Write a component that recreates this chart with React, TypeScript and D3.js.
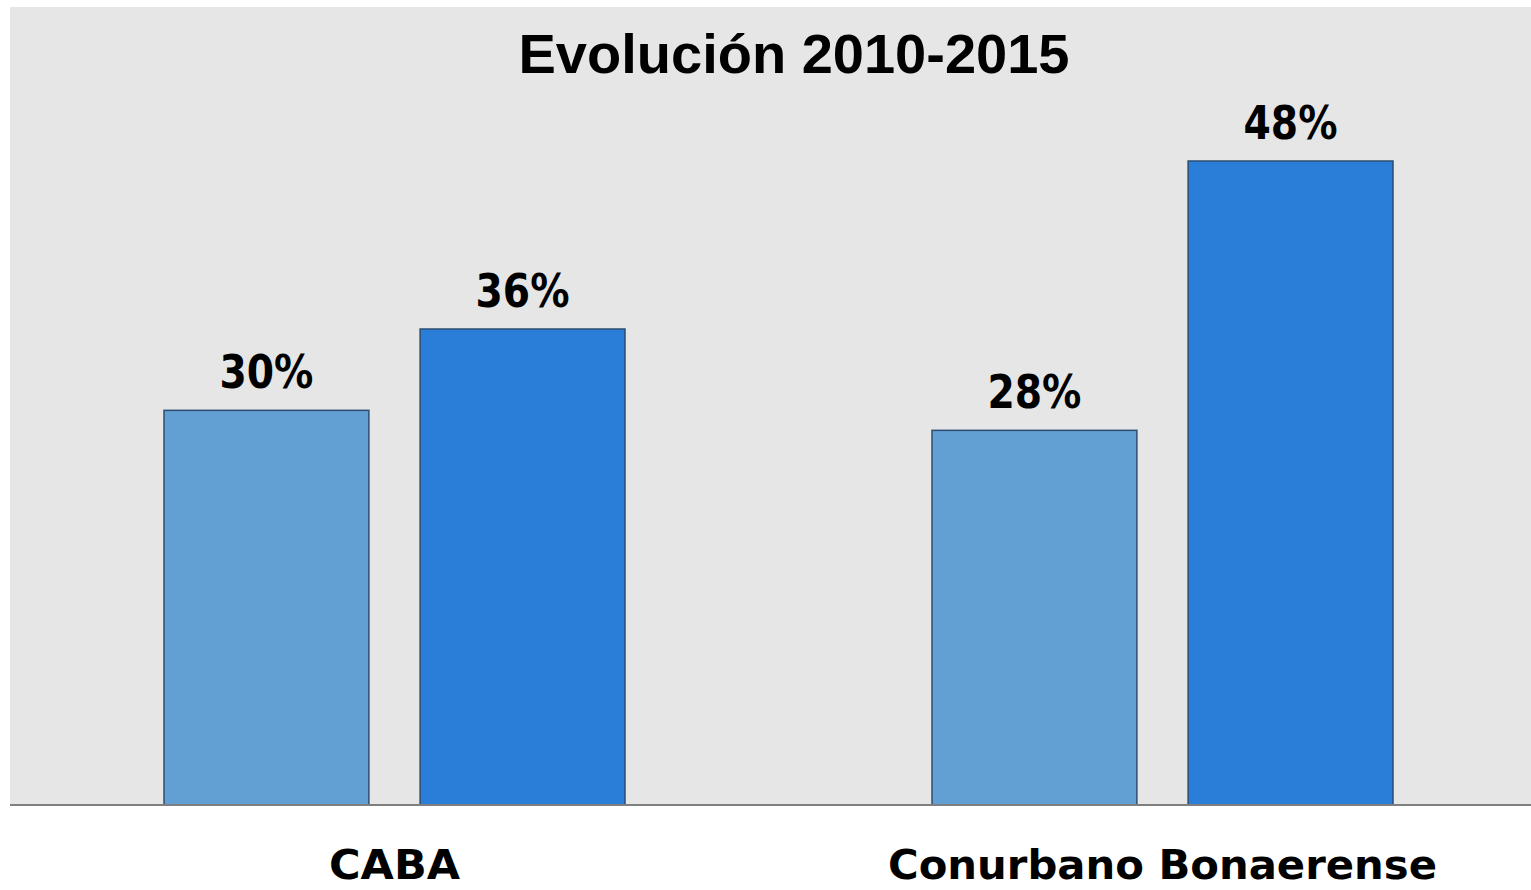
import React from 'react'
import * as d3 from 'd3'

const categories = ['CABA', 'Conurbano Bonaerense']
const series = ['2010', '2015']
const values2010 = [29.6, 28.1]
const values2015 = [35.7, 48.3]
const seriesColors = ['#629fd2', '#2b7ed8']
const title = 'Evolución 2010-2015'

const W = 1531
const H = 890
const bgLeft = 10
const bgTop = 7
const baseY = 805

const App = () => {
  const rows = categories.map((c, i) => ({ category: c, values: [values2010[i], values2015[i]] }))

  // outer band per category, inner band per series
  const x0 = d3.scaleBand().domain(categories).range([bgLeft, 1546]).padding(0)
  const x1 = d3.scaleBand().domain(series).range([154, 615]).paddingInner(0.2).paddingOuter(0)
  const y = d3.scaleLinear().domain([0, 60]).range([baseY, 5])
  const fmt = (v: number) => `${Math.round(v)}%`

  return (
    <div style={{ position: 'fixed', left: 0, top: 0, background: '#fff' }}>
      <svg width={W} height={H} style={{ display: 'block' }}>
        <rect x={bgLeft} y={bgTop} width={W - bgLeft} height={baseY - bgTop} fill="#e6e6e6" />
        <text
          x={794}
          y={73}
          textAnchor="middle"
          fontFamily="'Liberation Sans', Arial, sans-serif"
          fontWeight="bold"
          fontSize={56}
          fill="#000"
        >
          {title}
        </text>
        {rows.map((r) => (
          <g key={r.category} transform={`translate(${x0(r.category)},0)`}>
            {r.values.map((v, j) => (
              <g key={series[j]}>
                <rect
                  x={x1(series[j])}
                  y={y(v)}
                  width={x1.bandwidth()}
                  height={baseY - y(v)}
                  fill={seriesColors[j]}
                  stroke="#2d4d72"
                  strokeWidth={1.5}
                />
                <text
                  x={(x1(series[j]) as number) + x1.bandwidth() / 2}
                  y={y(v) - 22}
                  textAnchor="middle"
                  fontFamily="'DejaVu Sans', sans-serif"
                  fontWeight="bold"
                  fontSize={46}
                  textLength={94}
                  lengthAdjust="spacingAndGlyphs"
                  fill="#000"
                >
                  {fmt(v)}
                </text>
              </g>
            ))}
            <text
              x={384.5}
              y={879}
              textAnchor="middle"
              fontFamily="'DejaVu Sans', sans-serif"
              fontWeight="bold"
              fontSize={41}
              textLength={r.category === 'CABA' ? 131 : 549}
              lengthAdjust="spacingAndGlyphs"
              fill="#000"
            >
              {r.category}
            </text>
          </g>
        ))}
        <line x1={bgLeft} x2={W} y1={baseY} y2={baseY} stroke="#7f7f7f" strokeWidth={2} />
      </svg>
    </div>
  )
}

export default App
